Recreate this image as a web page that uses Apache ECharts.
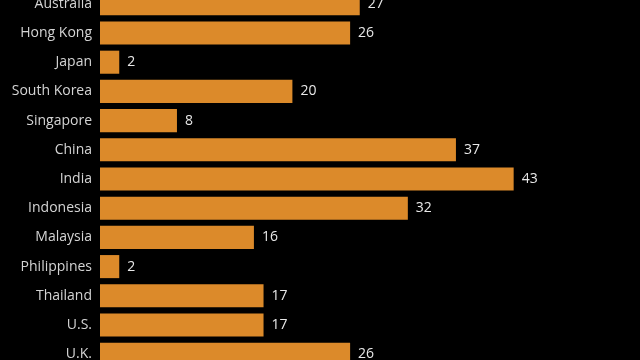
<!DOCTYPE html>
<html><head><meta charset="utf-8">
<script src="https://cdn.jsdelivr.net/npm/echarts@6/dist/echarts.min.js"></script>
<style>html,body{margin:0;padding:0;background:#000;overflow:hidden;width:640px;height:360px;}#c{position:absolute;left:0;top:-11px;width:640px;height:380px;}</style>
</head><body><div id="c"></div>
<script>
const categories = ["Australia","Hong Kong","Japan","South Korea","Singapore","China","India","Indonesia","Malaysia","Philippines","Thailand","U.S.","U.K."];
const values = [27,26,2,20,8,37,43,32,16,2,17,17,26];
const chart = echarts.init(document.getElementById('c'));
chart.setOption({
  backgroundColor:'#000',
  animation:false,
  grid:{left:100,top:0.2,width:481,height:379.6},
  xAxis:{type:'value',min:0,max:50,show:false},
  yAxis:{type:'category',data:categories,inverse:true,
    axisLine:{show:false},axisTick:{show:false},
    axisLabel:{color:'#d4d4d4',fontSize:14,margin:8,fontFamily:'Open Sans'}},
  series:[{type:'bar',data:values,barCategoryGap:'21%',
    itemStyle:{color:'#DC8A2A'},
    label:{show:true,position:'right',distance:8,color:'#e8e8e8',fontSize:14,fontFamily:'Open Sans'}}]
});
</script></body></html>
